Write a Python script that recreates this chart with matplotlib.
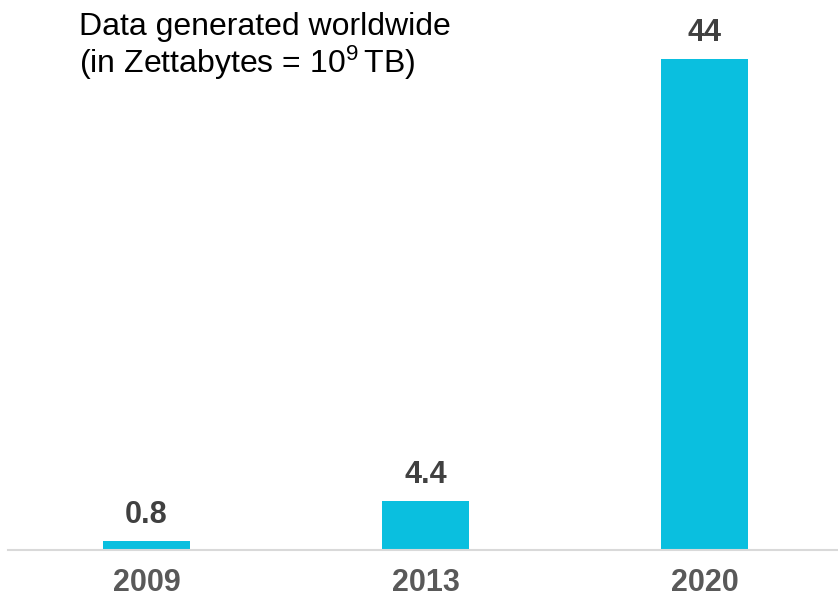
import matplotlib
matplotlib.use("Agg")
from matplotlib import pyplot as plt

years = ["2009", "2013", "2020"]
zettabytes = [0.8, 4.4, 44]
value_labels = ["0.8", "4.4", "44"]

plt.rcParams['font.family'] = ['Liberation Sans', 'DejaVu Sans']
plt.rcParams['mathtext.default'] = 'regular'

BAR_COLOR = '#0ABFDF'
VALUE_COLOR = '#404040'
TICK_COLOR = '#595959'

fig = plt.figure(figsize=(8.38, 6), dpi=100)
# axes placed so baseline sits at y=550 px and spans x=8..838 px
ax = fig.add_axes([8 / 838, 50 / 600, 830 / 838, 535.6 / 600])

x = list(range(len(years)))
ax.bar(x, zettabytes, width=0.312, color=BAR_COLOR)
ax.set_xlim(-0.496, 2.478)
ax.set_ylim(0, 48)

for xi, v, lab in zip(x, zettabytes, value_labels):
    ax.annotate(lab, (xi, v), xytext=(0, 8), textcoords='offset points',
                ha='center', va='bottom', fontsize=22, fontweight='bold',
                color=VALUE_COLOR)

ax.set_xticks(x)
ax.set_xticklabels(years, fontsize=22, fontweight='bold', color=TICK_COLOR)
ax.tick_params(axis='x', length=0, pad=13)
ax.set_yticks([])
for s in ['top', 'right', 'left']:
    ax.spines[s].set_visible(False)
ax.spines['bottom'].set_color('#D9D9D9')
ax.spines['bottom'].set_linewidth(1.5)

fig.text(79 / 838, 1 - 35 / 600, "Data generated worldwide", fontsize=23,
         color='black', ha='left', va='baseline')
fig.text(79 / 838, 1 - 73 / 600, r"(in Zettabytes = 10$^{9}\,$TB)", fontsize=23,
         color='black', ha='left', va='baseline')

fig.savefig("out.png", dpi=100)
